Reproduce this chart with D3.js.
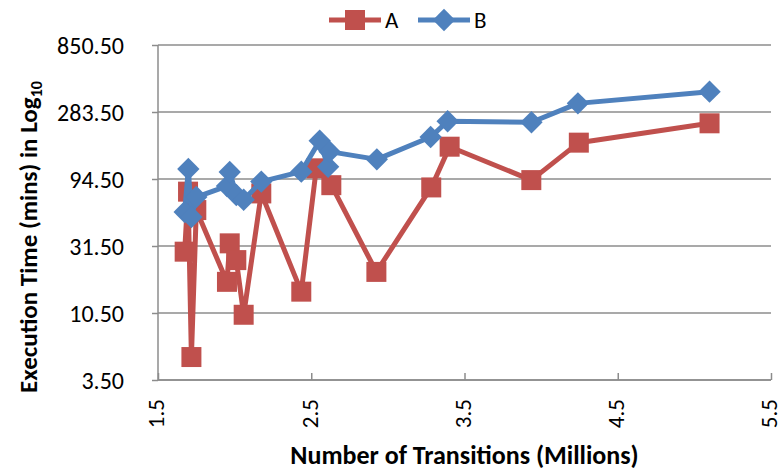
<!DOCTYPE html>
<html>
<head>
<meta charset="utf-8">
<script src="https://cdn.jsdelivr.net/npm/d3@7"></script>
<style>
  body { margin: 0; background: #fff; }
  text { font-family: Carlito, Lato, sans-serif; }
</style>
</head>
<body>
<script>
// series A (red squares)
const xA = [1.674, 1.696, 1.718, 1.75, 1.95, 1.968, 2.011, 2.059, 2.174, 2.435, 2.533, 2.631, 2.925, 3.283, 3.403, 3.936, 4.246, 5.099];
const yA = [28.7, 76.8, 5.1, 56.8, 17.5, 32.9, 25.0, 10.2, 74.6, 14.9, 112.6, 85.4, 20.6, 82.3, 160.5, 92.8, 171.5, 235.5];

// series B (blue diamonds)
const xB = [1.674, 1.698, 1.718, 1.75, 1.95, 1.968, 2.011, 2.059, 2.174, 2.435, 2.555, 2.61, 2.62, 2.928, 3.279, 3.39, 3.937, 4.24, 5.099];
const yB = [55.0, 111.4, 50.7, 70.3, 84.1, 105.9, 72.7, 67.2, 90.6, 106.6, 177, 115.6, 148, 130.4, 188, 243.6, 239.6, 326.6, 395.6];

const yTicks = [3.5, 10.5, 31.5, 94.5, 283.5, 850.5];
const xTicks = [1.5, 2.5, 3.5, 4.5, 5.5];

const series = [
  { name: "A", xs: xA, ys: yA, color: "#C0504D", rot: 0, size: 400 },
  { name: "B", xs: xB, ys: yB, color: "#4F81BD", rot: 45, size: 250 }
];

// dimensions and margins
const margin = { top: 45, right: 11, bottom: 90, left: 158 };
const width = 782 - margin.left - margin.right;
const height = 470 - margin.top - margin.bottom;

const svg = d3.select("body").append("svg")
    .attr("width", 782)
    .attr("height", 470);

const g = svg.append("g")
    .attr("transform", "translate(" + margin.left + "," + margin.top + ")");

const xScale = d3.scaleLinear().domain([1.5, 5.5]).range([0, width]);
const yScale = d3.scaleLog().base(3).domain([3.5, 850.5]).range([height, 0]);

// gridlines
g.append("g")
    .selectAll("line")
    .data(yTicks)
    .enter().append("line")
    .attr("x1", 0)
    .attr("x2", width)
    .attr("y1", d => yScale(d))
    .attr("y2", d => yScale(d))
    .attr("stroke", "#8c8c8c")
    .attr("stroke-width", 1.5);

// y axis
const yAxis = g.append("g")
    .call(d3.axisLeft(yScale).tickValues(yTicks).tickFormat(d3.format(".2f")).tickSize(6).tickPadding(28));
yAxis.selectAll("line, path").attr("stroke", "#8c8c8c").attr("stroke-width", 1.5);
yAxis.select(".domain").attr("d", "M0,0V" + height);
yAxis.selectAll("text")
    .attr("fill", "#000")
    .style("font-size", "24px")
    .attr("dy", "0.35em");

// x axis, ticks pointing inside
const xAxis = g.append("g")
    .attr("transform", "translate(0," + height + ")")
    .call(d3.axisBottom(xScale).tickValues(xTicks).tickFormat(d3.format(".1f")).tickSize(-7));
xAxis.selectAll("line, path").attr("stroke", "#8c8c8c").attr("stroke-width", 1.5);
xAxis.select(".domain").attr("d", "M0,0H" + width);
xAxis.selectAll("text")
    .attr("fill", "#000")
    .style("font-size", "23px")
    .attr("transform", "rotate(-90)")
    .attr("text-anchor", "end")
    .attr("x", -19)
    .attr("y", 0)
    .attr("dy", "0.25em");

// lines and markers
const line = d3.line()
    .x(d => xScale(d[0]))
    .y(d => yScale(d[1]));

series.forEach(function(s) {
    const pts = s.xs.map((x, i) => [x, s.ys[i]]);
    g.append("path")
        .datum(pts)
        .attr("fill", "none")
        .attr("stroke", s.color)
        .attr("stroke-width", 5)
        .attr("stroke-linejoin", "round")
        .attr("d", line);
    g.selectAll(null)
        .data(pts)
        .enter().append("path")
        .attr("transform", d => "translate(" + xScale(d[0]) + "," + yScale(d[1]) + ") rotate(" + s.rot + ")")
        .attr("d", d3.symbol().type(d3.symbolSquare).size(s.size))
        .attr("fill", s.color);
});

// legend
const legend = svg.append("g").attr("transform", "translate(329,20)");
series.forEach(function(s, i) {
    const lg = legend.append("g").attr("transform", "translate(" + (i * 89) + ",0)");
    lg.append("line")
        .attr("x1", 0).attr("x2", 52)
        .attr("stroke", s.color)
        .attr("stroke-width", 5);
    lg.append("path")
        .attr("transform", "translate(26,0) rotate(" + s.rot + ")")
        .attr("d", d3.symbol().type(d3.symbolSquare).size(s.size))
        .attr("fill", s.color);
    lg.append("text")
        .attr("x", 56)
        .attr("dy", "0.35em")
        .style("font-size", "23px")
        .text(s.name);
});

// axis titles
svg.append("text")
    .attr("x", margin.left + width / 2)
    .attr("y", 464)
    .style("text-anchor", "middle")
    .style("font-size", "26px")
    .style("font-weight", "bold")
    .text("Number of Transitions (Millions)");

const yTitle = svg.append("text")
    .attr("transform", "translate(37,237) rotate(-90)")
    .style("text-anchor", "middle")
    .style("font-size", "25px")
    .style("font-weight", "bold");
yTitle.append("tspan").text("Execution Time (mins) in Log");
yTitle.append("tspan").attr("dy", "0.3em").style("font-size", "16px").text("10");
</script>
</body>
</html>
